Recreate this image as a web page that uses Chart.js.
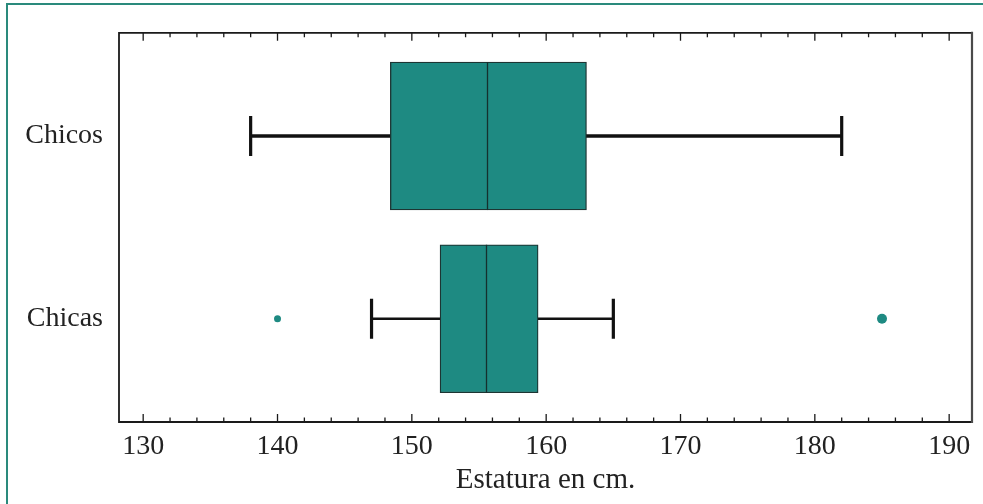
<!DOCTYPE html>
<html>
<head>
<meta charset="utf-8">
<script src="https://cdn.jsdelivr.net/npm/chart.js@4.4.1/dist/chart.umd.min.js"></script>
<style>
    html, body { margin: 0; padding: 0; background: #fff; overflow: hidden; }
    #wrap { position: relative; width: 983px; height: 504px; }
    #frame {
        position: absolute; left: 6px; top: 3px; width: 990px; height: 520px;
        border-left: 2px solid #2a8a7c; border-top: 2px solid #2a8a7c;
        pointer-events: none;
    }
    canvas { position: absolute; left: 0; top: 0; }
</style>
</head>
<body>
<div id="wrap">
    <canvas id="boxChart" width="983" height="504"></canvas>
    <div id="frame"></div>
</div>
<script>
// Box plot values (cm)
const categories = ['Chicos', 'Chicas'];
const whiskerLow = [138, 147];
const q1 = [148.4, 152.1];
const median = [155.6, 155.5];
const q3 = [163, 159.4];
const whiskerHigh = [182, 165];
const outlierValues = [140, 185];
const outlierGroup = [1, 1];

// x axis ticks
const tickValues = [];
for (let v = 130; v <= 190; v += 2) tickValues.push(v);

const boxColor = '#1e8a82';
const whiskerWidth = [3.5, 2.5];

const boxPlotExtras = {
    id: 'boxPlotExtras',
    beforeDatasetsDraw(chart) {
        // whiskers and caps, under the boxes
        const { ctx, scales: { x, y } } = chart;
        ctx.save();
        ctx.strokeStyle = '#111';
        categories.forEach((c, i) => {
            const yc = y.getPixelForValue(i);
            const capH = 20;
            ctx.lineWidth = whiskerWidth[i];
            ctx.beginPath();
            ctx.moveTo(x.getPixelForValue(whiskerLow[i]), yc);
            ctx.lineTo(x.getPixelForValue(whiskerHigh[i]), yc);
            ctx.stroke();
            ctx.lineWidth = 3.2;
            ctx.beginPath();
            [whiskerLow[i], whiskerHigh[i]].forEach(v => {
                const px = x.getPixelForValue(v);
                ctx.moveTo(px, yc - capH);
                ctx.lineTo(px, yc + capH);
            });
            ctx.stroke();
        });
        ctx.restore();
    },
    afterDatasetsDraw(chart) {
        // median lines
        const { ctx, scales: { x } } = chart;
        const meta = chart.getDatasetMeta(0);
        ctx.save();
        ctx.strokeStyle = '#15302e';
        ctx.lineWidth = 1.3;
        meta.data.forEach((bar, i) => {
            const px = Math.round(x.getPixelForValue(median[i])) + 0.5;
            ctx.beginPath();
            ctx.moveTo(px, bar.y - bar.height / 2);
            ctx.lineTo(px, bar.y + bar.height / 2);
            ctx.stroke();
        });
        ctx.restore();
    },
    afterDraw(chart) {
        // plot frame and inward tick marks
        const { ctx, chartArea: a, scales: { x } } = chart;
        ctx.save();
        ctx.strokeStyle = '#1a1a1a';
        ctx.lineWidth = 1.3;
        tickValues.forEach(v => {
            const px = x.getPixelForValue(v);
            const len = v % 10 === 0 ? 8 : 4.5;
            ctx.beginPath();
            ctx.moveTo(px, a.bottom);
            ctx.lineTo(px, a.bottom - len);
            ctx.moveTo(px, a.top);
            ctx.lineTo(px, a.top + len);
            ctx.stroke();
        });
        ctx.lineWidth = 1.8;
        ctx.beginPath();
        ctx.moveTo(a.right, a.top);
        ctx.lineTo(a.left, a.top);
        ctx.lineTo(a.left, a.bottom);
        ctx.lineTo(a.right, a.bottom);
        ctx.stroke();
        ctx.strokeStyle = '#4a4a4a';
        ctx.lineWidth = 2.2;
        ctx.beginPath();
        ctx.moveTo(a.right, a.top - 1);
        ctx.lineTo(a.right, a.bottom + 1);
        ctx.stroke();
        ctx.restore();
    }
};

const labelFont = { family: '"Liberation Serif", "Times New Roman", serif', size: 28 };

new Chart(document.getElementById('boxChart'), {
    type: 'bar',
    data: {
        datasets: [{
            type: 'bar',
            data: categories.map((c, i) => ({ x: [q1[i], q3[i]], y: i })),
            backgroundColor: boxColor,
            borderColor: '#1d3533',
            borderWidth: 1.3,
            borderSkipped: false,
            barThickness: 148
        }, {
            type: 'scatter',
            data: outlierValues.map((v, i) => ({ x: v, y: outlierGroup[i] })),
            backgroundColor: boxColor,
            borderColor: boxColor,
            borderWidth: 0,
            pointRadius: [3.5, 5]
        }]
    },
    options: {
        indexAxis: 'y',
        responsive: false,
        animation: false,
        layout: { padding: { left: 0, top: 30, right: 11, bottom: 0 } },
        plugins: {
            legend: { display: false },
            tooltip: { enabled: false }
        },
        scales: {
            x: {
                type: 'linear',
                position: 'bottom',
                offset: false,
                min: 128.2,
                max: 191.7,
                afterBuildTicks: scale => { scale.ticks = tickValues.map(v => ({ value: v })); },
                afterFit: scale => { scale.height = 82; },
                grid: { display: false, drawTicks: false, offset: false },
                border: { display: false },
                ticks: {
                    autoSkip: false,
                    maxRotation: 0,
                    padding: 8,
                    color: '#222',
                    font: labelFont,
                    callback: v => (v % 10 === 0 ? String(v) : null)
                },
                title: {
                    display: true,
                    text: 'Estatura en cm.',
                    color: '#222',
                    font: { family: labelFont.family, size: 29 },
                    padding: { top: 0, bottom: 6 }
                }
            },
            y: {
                type: 'linear',
                position: 'left',
                offset: false,
                min: -0.565,
                max: 1.565,
                reverse: true,
                afterBuildTicks: scale => { scale.ticks = categories.map((c, i) => ({ value: i })); },
                afterFit: scale => { scale.width = 119; },
                grid: { display: false, drawTicks: false, offset: false },
                border: { display: false },
                ticks: {
                    padding: 16,
                    color: '#222',
                    font: labelFont,
                    callback: v => categories[v]
                }
            }
        }
    },
    plugins: [boxPlotExtras]
});
</script>
</body>
</html>
